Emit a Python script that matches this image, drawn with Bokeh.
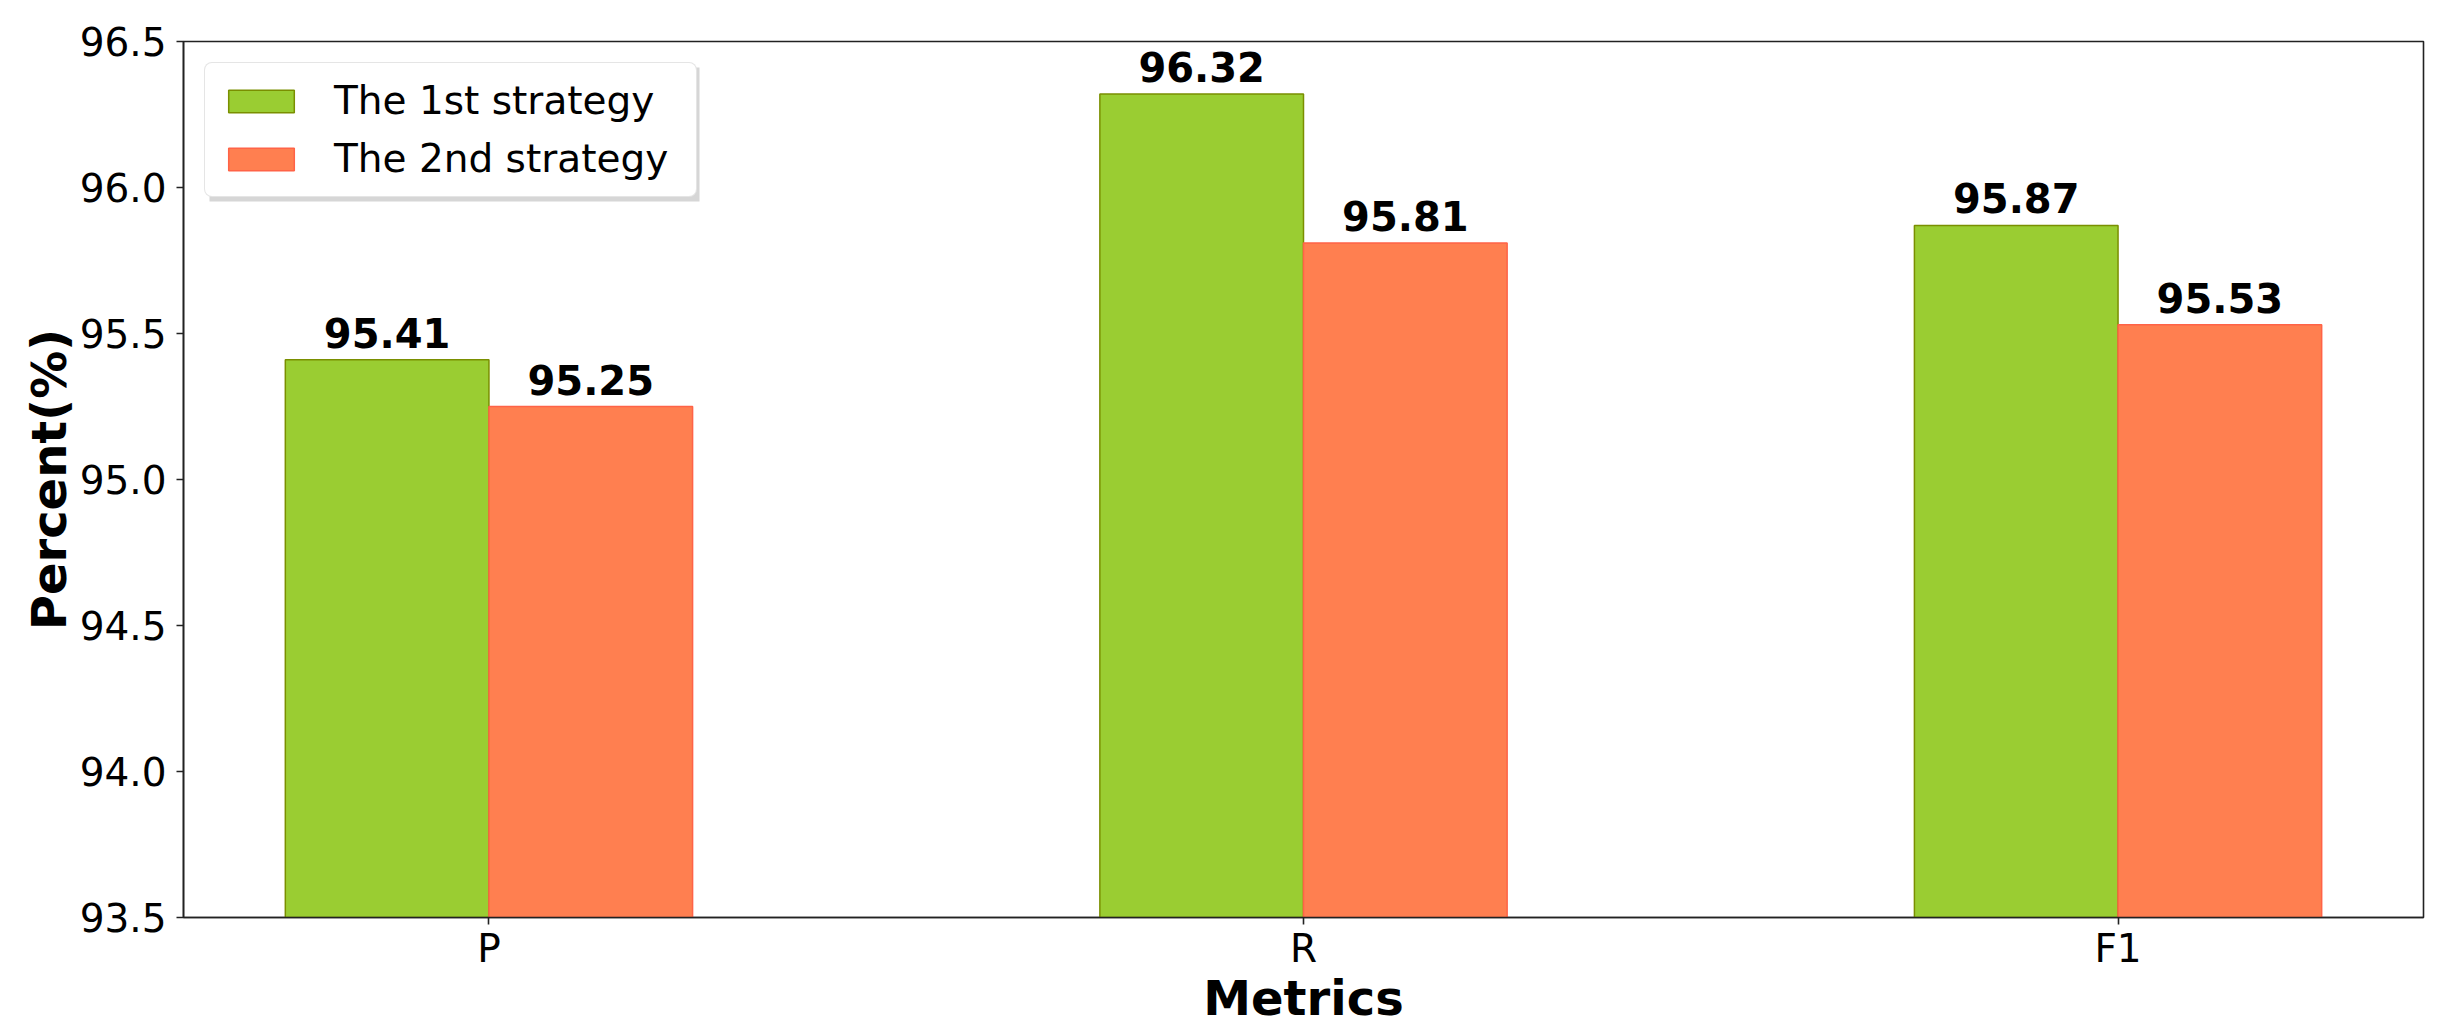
from bokeh.plotting import figure
from bokeh.models import FixedTicker, ColumnDataSource, Range1d, Legend, BoxAnnotation
from bokeh.core.properties import value
from bokeh.embed import file_html
from bokeh.resources import INLINE

# ---- data ----
metrics = ["P", "R", "F1"]
strategy1 = [95.41, 96.32, 95.87]
strategy2 = [95.25, 95.81, 95.53]
series_names = ["The 1st strategy", "The 2nd strategy"]
y_ticks = [93.5, 94.0, 94.5, 95.0, 95.5, 96.0, 96.5]

FONT = "DejaVu Sans"
bar_w = 0.25
pos = list(range(len(metrics)))

FRAME_H = 876
p = figure(width=2452, height=1036, output_backend="svg", toolbar_location=None,
           x_range=Range1d(-0.375, len(metrics) - 1 + 0.375),
           y_range=Range1d(y_ticks[0], y_ticks[-1]),
           min_border_left=183, min_border_right=29, min_border_top=41, min_border_bottom=119)
p.background_fill_color = "white"
p.border_fill_color = "white"
p.outline_line_color = "#222222"
p.outline_line_width = 1.6
p.xgrid.visible = False
p.ygrid.visible = False

src1 = ColumnDataSource(dict(x=[i - bar_w / 2 for i in pos], top=strategy1,
                             lbl=["%.2f" % v for v in strategy1]))
src2 = ColumnDataSource(dict(x=[i + bar_w / 2 for i in pos], top=strategy2,
                             lbl=["%.2f" % v for v in strategy2]))

r1 = p.vbar(x="x", top="top", bottom=0, width=bar_w, source=src1,
            fill_color="#9ACD32", line_color="#7A8F00", line_width=1.5)
r2 = p.vbar(x="x", top="top", bottom=0, width=bar_w, source=src2,
            fill_color="#FF7F50", line_color="#FF6347", line_width=1.5)

for s in (src1, src2):
    p.text(x="x", y="top", text="lbl", source=s, text_align="center",
           text_baseline="alphabetic", y_offset=-27,
           text_font=value(FONT), text_font_style="bold", text_font_size="40px",
           text_color="black")

# axes
p.xaxis.ticker = FixedTicker(ticks=pos)
p.xaxis.major_label_overrides = {i: m for i, m in zip(pos, metrics)}
p.yaxis.ticker = FixedTicker(ticks=y_ticks)
p.yaxis.major_label_overrides = {t: "%.1f" % t for t in y_ticks}
for ax in (p.xaxis[0], p.yaxis[0]):
    ax.axis_line_color = "#222222"
    ax.axis_line_width = 1.6
    ax.major_tick_line_color = "#222222"
    ax.major_tick_line_width = 1.6
    ax.major_tick_in = 0
    ax.major_tick_out = 7
    ax.minor_tick_line_color = None
    ax.major_label_text_font = FONT
    ax.major_label_text_font_size = "39px"
    ax.major_label_text_color = "black"
    ax.axis_label_text_font = FONT
    ax.axis_label_text_font_style = "bold"
    ax.axis_label_text_font_size = "48px"
    ax.axis_label_text_color = "black"
p.xaxis.axis_label = "Metrics"
p.yaxis.axis_label = "Percent(%)"
p.xaxis.major_label_standoff = 1
p.xaxis.axis_label_standoff = -4
p.yaxis.major_label_standoff = 10
p.yaxis.axis_label_standoff = 0

# legend shadow (frame-relative screen units, measured from the frame bottom)
shadow = BoxAnnotation(left=26, right=516, top=FRAME_H - 26, bottom=FRAME_H - 160,
                       left_units="screen", right_units="screen",
                       top_units="screen", bottom_units="screen",
                       fill_color="#999999", fill_alpha=0.4, line_color=None)
p.add_layout(shadow)

legend = Legend(items=[(series_names[0], [r1]), (series_names[1], [r2])],
                location="top_left", margin=21, padding=15, spacing=13,
                glyph_width=82, glyph_height=28, label_standoff=32, label_width=347,
                label_text_font=FONT, label_text_font_size="39px",
                label_text_color="black",
                border_line_color="#cccccc", border_line_width=1.5,
                background_fill_color="white", background_fill_alpha=1.0)
if "border_radius" in Legend.properties():
    legend.border_radius = 8
p.add_layout(legend)

open("out.html", "w").write(file_html(p, INLINE))
